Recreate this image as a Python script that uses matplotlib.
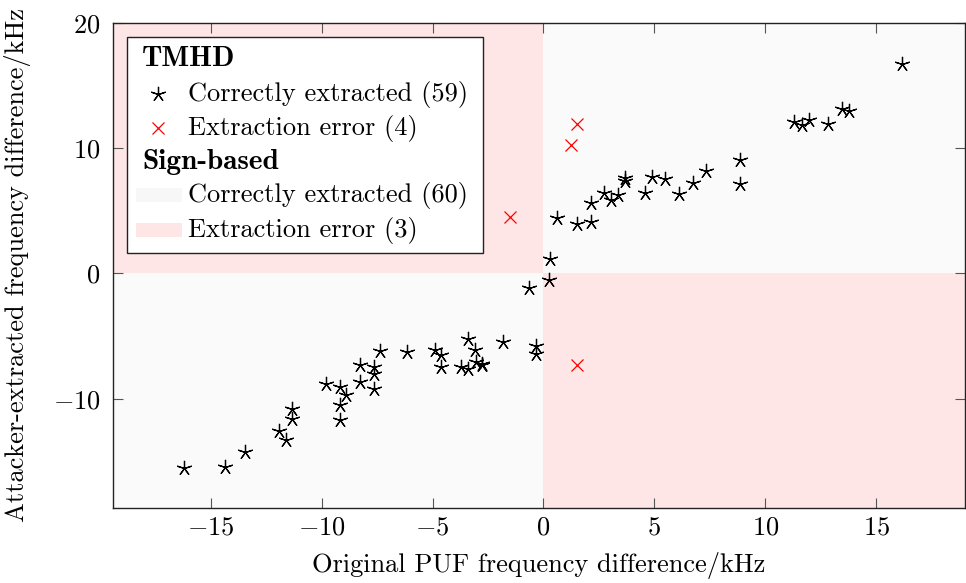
import matplotlib
matplotlib.use("Agg")
import matplotlib.pyplot as plt
from matplotlib.patches import Rectangle

plt.rcParams['font.family'] = ['cmr10']
plt.rcParams['mathtext.fontset'] = 'cm'
plt.rcParams['axes.formatter.use_mathtext'] = True
plt.rcParams['axes.unicode_minus'] = True

# TMHD correctly extracted (59)
ok_x = [16.18, 11.31, 11.64, 11.95, 12.84, 13.44, 13.75, 8.86, 8.86, 7.33,
        6.73, 6.13, 5.50, 4.90, 4.56, 3.68, 3.68, 3.38, 3.05, 2.75,
        2.12, 2.12, 1.52, 0.60, 0.30, 0.27, -0.63, -0.33,
        -16.22, -14.37, -13.47, -11.94, -11.62, -11.34, -11.34, -9.80, -9.19, -8.89,
        -9.19, -9.19, -8.26, -8.26, -7.66, -7.66, -7.66, -7.36, -6.14, -4.91,
        -4.61, -4.61, -3.71, -3.38, -3.38, -3.08, -3.03, -2.76, -2.76, -1.83,
        -0.33]
ok_y = [16.74, 12.07, 11.81, 12.21, 11.89, 13.14, 12.95, 9.07, 7.10, 8.14,
        7.21, 6.36, 7.50, 7.69, 6.44, 7.60, 7.35, 6.28, 5.83, 6.41,
        5.61, 4.09, 3.91, 4.45, 1.12, -0.56, -1.14, -5.83,
        -15.54, -15.46, -14.26, -12.61, -13.27, -10.80, -11.60, -8.80, -9.07, -9.74,
        -10.48, -11.73, -7.34, -8.67, -7.47, -8.01, -9.20, -6.20, -6.25, -6.15,
        -6.54, -7.47, -7.47, -5.21, -7.61, -6.15, -7.08, -7.34, -7.20, -5.48,
        -6.46]
# TMHD extraction error (4)
err_x = [1.52, 1.22, -1.53, 1.52]
err_y = [11.89, 10.27, 4.49, -7.29]

x_ticks = [-15, -10, -5, 0, 5, 10, 15]
y_ticks = [-10, 0, 10, 20]
xlim = (-19.4, 19.0)
ylim = (-18.7, 20.0)

pink = '#ffe6e6'
gray = '#fafafa'
fs = 19

fig = plt.figure(figsize=(9.66, 5.83), dpi=100)
ax = fig.add_axes([0.117, 0.129, 0.882, 0.832])
ax.set_xlim(*xlim)
ax.set_ylim(*ylim)

# sign-based quadrants
ax.add_patch(Rectangle((xlim[0], 0), -xlim[0], ylim[1], facecolor=pink, edgecolor='none', zorder=0))
ax.add_patch(Rectangle((0, ylim[0]), xlim[1], -ylim[0], facecolor=pink, edgecolor='none', zorder=0))
ax.add_patch(Rectangle((0, 0), xlim[1], ylim[1], facecolor=gray, edgecolor='none', zorder=0))
ax.add_patch(Rectangle((xlim[0], ylim[0]), -xlim[0], -ylim[0], facecolor=gray, edgecolor='none', zorder=0))

star = (5, 2, 0)
ax.plot(ok_x, ok_y, linestyle='none', marker=star, markersize=11, markeredgewidth=0.9,
        color='black', zorder=3)
ax.plot(err_x, err_y, linestyle='none', marker='x', markersize=8.5, markeredgewidth=0.9,
        color='red', zorder=3)

ax.set_xticks(x_ticks)
ax.set_yticks(y_ticks)
ax.tick_params(direction='in', length=7.5, width=0.8, color='#555555', top=True, right=True,
               labelsize=fs)
ax.tick_params(axis='x', pad=6)
ax.tick_params(axis='y', pad=9)
for s in ax.spines.values():
    s.set_linewidth(1.0)
    s.set_color('#222222')

ax.set_xlabel('Original PUF frequency difference/kHz', fontsize=fs)
ax.set_ylabel('Attacker-extracted frequency difference/kHz', fontsize=fs)
ax.xaxis.set_label_coords(0.5, -0.118)
ax.yaxis.set_label_coords(-0.112, 0.5)
ax.xaxis.label.set_va('center')
ax.yaxis.label.set_va('center')

# legend drawn manually in axes fractions
def fx(px):
    return (px - 113) / (965 - 113)
def fy(py):
    return (507.7 - py) / (507.7 - 22.7)

tr = ax.transAxes
ax.add_patch(Rectangle((fx(127.3), fy(252.7)), fx(482.7) - fx(127.3), fy(37.3) - fy(252.7),
                       transform=tr, facecolor='white', edgecolor='#222222', linewidth=1.0, zorder=5))
ax.text(fx(142), fy(59.3), 'TMHD', transform=tr, fontsize=21, family='cmb10', va='center', zorder=6)
ax.text(fx(142), fy(161.7), 'Sign-based', transform=tr, fontsize=21, family='cmb10', va='center', zorder=6)
ax.plot([fx(158)], [fy(94)], transform=tr, marker=star, markersize=11, markeredgewidth=0.9,
        color='black', linestyle='none', zorder=6, clip_on=False)
ax.plot([fx(158)], [fy(128.3)], transform=tr, marker='x', markersize=8.5, markeredgewidth=0.9,
        color='red', linestyle='none', zorder=6, clip_on=False)
ax.add_patch(Rectangle((fx(135.7), fy(202)), fx(181.7) - fx(135.7), fy(188) - fy(202),
                       transform=tr, facecolor='#f7f7f7', edgecolor='none', zorder=6))
ax.add_patch(Rectangle((fx(135.7), fy(237)), fx(181.7) - fx(135.7), fy(223) - fy(237),
                       transform=tr, facecolor=pink, edgecolor='none', zorder=6))
labels = ['Correctly extracted (59)', 'Extraction error (4)',
          'Correctly extracted (60)', 'Extraction error (3)']
ys = [94, 128.3, 195.7, 230]
for lab, yy in zip(labels, ys):
    ax.text(fx(187.7), fy(yy), lab, transform=tr, fontsize=fs, va='center', zorder=6)

fig.savefig('out.png', dpi=100)
